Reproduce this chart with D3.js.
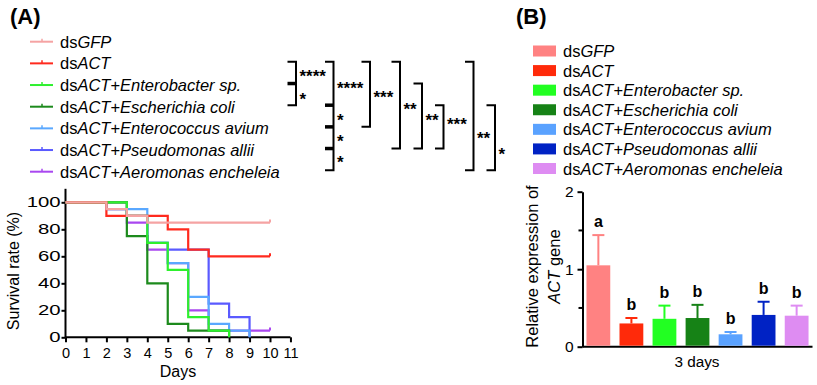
<!DOCTYPE html>
<html>
<head>
<meta charset="utf-8">
<script src="https://cdn.jsdelivr.net/npm/d3@7"></script>
<style>
  body { margin: 0; background: #fff; }
  svg { display: block; font-family: 'Liberation Sans', Arial, sans-serif; }
  .axis path, .axis line { stroke: #000; stroke-width: 2; }
  .axis text { fill: #000; }
</style>
</head>
<body>
<svg id="fig" width="817" height="385"></svg>
<script>
'use strict';

// groups shared by both panels
var groups = [
  'dsGFP',
  'dsACT',
  'dsACT+Enterobacter sp.',
  'dsACT+Escherichia coli',
  'dsACT+Enterococcus avium',
  'dsACT+Pseudomonas allii',
  'dsACT+Aeromonas encheleia'
];
var lineColors = ['#f5a3a3', '#ff2a1e', '#2ef02e', '#1c8a1c', '#5aa8ff', '#5a5aff', '#a947f0'];
var barColors  = ['#ff8282', '#ff2a0a', '#22ff22', '#168216', '#5aa2ff', '#0022c4', '#de8cf2'];

// (A) survival, value held from day i to day i+1
var survival = [
  [100, 100, 95, 90, 85, 85, 85, 85, 85, 85, 85],
  [100, 100, 90, 90, 90, 80, 65, 60, 60, 60, 60],
  [100, 100, 100, 90, 70, 50, 15, 5, 0],
  [100, 100, 100, 75, 40, 10, 5, 5, 0],
  [100, 100, 95, 95, 70, 55, 30, 10, 5, 0],
  [100, 100, 95, 90, 70, 65, 65, 25, 15, 0],
  [100, 100, 100, 85, 65, 55, 20, 5, 5, 5, 5]
];
var drawOrder = [6, 5, 4, 3, 2, 1, 0];
var dayTicks = d3.range(0, 12);
var survTicks = [0, 20, 40, 60, 80, 100];

// significance brackets: rows refer to legend rows
var brackets = [
  {top: 1, bottom: 3, ticks: [2], labels: [['****', 1.5], ['*', 2.55]]},
  {top: 1, bottom: 6, ticks: [3, 4, 5], labels: [['****', 2.05], ['*', 3.5], ['*', 4.5], ['*', 5.45]]},
  {top: 1, bottom: 4, ticks: [], labels: [['***', 2.45]]},
  {top: 1, bottom: 5, ticks: [], labels: [['**', 3.0]]},
  {top: 2, bottom: 5, ticks: [], labels: [['**', 3.5]]},
  {top: 3, bottom: 5, ticks: [], labels: [['***', 3.7]]},
  {top: 1, bottom: 6, ticks: [], labels: [['**', 4.35]]},
  {top: 3, bottom: 6, ticks: [], labels: [['*', 5.1]]}
];
var bracketX = [296, 333.5, 370, 400, 422, 443.5, 473.5, 495];

// (B) relative expression at 3 days
var expression = [1.05, 0.30, 0.36, 0.37, 0.16, 0.41, 0.40];
var expressionErr = [0.39, 0.07, 0.17, 0.17, 0.03, 0.17, 0.13];
var letters = ['a', 'b', 'b', 'b', 'b', 'b', 'b'];

var svg = d3.select('#fig');

function labelParts (name) {
  // "ds" upright, gene and species italic, "+" upright
  var rest = name.slice(2).split('+');
  var parts = [{t: 'ds', i: false}, {t: rest[0], i: true}];
  if (rest[1]) {
    parts.push({t: '+', i: false});
    parts.push({t: rest[1], i: true});
  }
  return parts;
}

function writeLabel (sel) {
  sel.each(function (d) {
    var t = d3.select(this);
    labelParts(d).forEach(function (p) {
      t.append('tspan').attr('font-style', p.i ? 'italic' : 'normal').text(p.t);
    });
  });
}

// ---------- panel A ----------
svg.append('text').attr('x', 10).attr('y', 23.5)
  .attr('font-size', 22).attr('font-weight', 'bold').text('(A)');

var rowA = d3.scaleLinear().domain([0, 6]).range([41.7, 171.7]);

var legA = svg.append('g').selectAll('g').data(groups).join('g')
  .attr('transform', function (d, i) { return 'translate(0,' + rowA(i) + ')'; });
legA.append('line').attr('x1', 30).attr('x2', 53)
  .attr('stroke', function (d, i) { return lineColors[i]; }).attr('stroke-width', 2);
legA.append('line').attr('x1', 42).attr('x2', 42).attr('y1', -3).attr('y2', 0)
  .attr('stroke', function (d, i) { return lineColors[i]; }).attr('stroke-width', 1.5);
legA.append('text').attr('x', 60).attr('y', 6).attr('font-size', 16.5).call(writeLabel);

var br = svg.append('g');
brackets.forEach(function (b, k) {
  var x = bracketX[k];
  var y0 = rowA(b.top) - 1.5;
  var y1 = rowA(b.bottom) - 1.5;
  br.append('path')
    .attr('d', 'M' + (x - 8.5) + ',' + y0 + 'H' + x + 'V' + y1 + 'H' + (x - 8.5))
    .attr('fill', 'none').attr('stroke', '#000').attr('stroke-width', 2);
  b.ticks.forEach(function (r) {
    br.append('line').attr('x1', x - 8.5).attr('x2', x)
      .attr('y1', rowA(r) - 1.5).attr('y2', rowA(r) - 1.5)
      .attr('stroke', '#000').attr('stroke-width', 3.5);
  });
  b.labels.forEach(function (l) {
    br.append('text').attr('x', x + 3.5).attr('y', rowA(l[1]) + 8)
      .attr('font-size', 17).attr('font-weight', 'bold').text(l[0]);
  });
});

var xA = d3.scaleLinear().domain([0, 10]).range([65.5, 270]);
var yA = d3.scaleLinear().domain([0, 100]).range([337.3, 202.3]);

var axA = svg.append('g').attr('class', 'axis').attr('transform', 'translate(0,337.3)')
  .call(d3.axisBottom(xA).tickValues(dayTicks).tickSize(5).tickPadding(5).tickSizeOuter(0));
axA.select('.domain').attr('d', 'M' + xA(0) + ',0H' + xA(11));
axA.selectAll('text').attr('font-size', 14.5);

var ayA = svg.append('g').attr('class', 'axis').attr('transform', 'translate(65.5,0)')
  .call(d3.axisLeft(yA).tickValues(survTicks).tickSize(4).tickPadding(1).tickSizeOuter(0));
ayA.select('.domain').attr('d', 'M0,' + yA(0) + 'V' + yA(110));
ayA.selectAll('text').attr('font-size', 14.5).each(function () {
  // the reference prints these digits wide
  var w = this.getComputedTextLength();
  d3.select(this).attr('textLength', w * 1.4).attr('lengthAdjust', 'spacingAndGlyphs');
});

svg.append('text').attr('x', 178).attr('y', 377).attr('text-anchor', 'middle')
  .attr('font-size', 16).text('Days');
svg.append('text').attr('transform', 'translate(18.5,271) rotate(-90)')
  .attr('text-anchor', 'middle').attr('font-size', 16).text('Survival rate (%)');

var stepLine = d3.line()
  .x(function (d, i) { return xA(i); })
  .y(function (d) { return yA(d); })
  .curve(d3.curveStepAfter);

var curves = svg.append('g');
drawOrder.forEach(function (g) {
  var vals = survival[g];
  curves.append('path').attr('d', stepLine(vals))
    .attr('fill', 'none').attr('stroke', lineColors[g]).attr('stroke-width', 2.2);
  var last = vals[vals.length - 1];
  if (last > 0) {
    curves.append('line')
      .attr('x1', xA(vals.length - 1)).attr('x2', xA(vals.length - 1))
      .attr('y1', yA(last) - 3).attr('y2', yA(last))
      .attr('stroke', lineColors[g]).attr('stroke-width', 2);
  }
});

// ---------- panel B ----------
svg.append('text').attr('x', 516).attr('y', 23.5)
  .attr('font-size', 22).attr('font-weight', 'bold').text('(B)');

var rowB = d3.scaleLinear().domain([0, 6]).range([51, 168.5]);
var legB = svg.append('g').selectAll('g').data(groups).join('g')
  .attr('transform', function (d, i) { return 'translate(0,' + rowB(i) + ')'; });
legB.append('rect').attr('x', 533).attr('y', -5.5).attr('width', 23).attr('height', 11)
  .attr('fill', function (d, i) { return barColors[i]; });
legB.append('text').attr('x', 563).attr('y', 6).attr('font-size', 16.5).call(writeLabel);

var xB = d3.scaleBand().domain(groups).range([582.5, 812.5])
  .paddingInner(0.28).paddingOuter(0.12);
var yB = d3.scaleLinear().domain([0, 2]).range([346.7, 191.7]);

var ayB = svg.append('g').attr('class', 'axis').attr('transform', 'translate(582.5,0)')
  .call(d3.axisLeft(yB).tickValues([0, 1, 2]).tickFormat(d3.format('d'))
    .tickSize(5).tickPadding(4).tickSizeOuter(0));
ayB.selectAll('text').attr('font-size', 15.5);
ayB.selectAll('.minor').data([0.5, 1.5]).join('line').attr('class', 'minor')
  .attr('x1', -4).attr('x2', 0).attr('y1', yB).attr('y2', yB)
  .attr('stroke', '#000').attr('stroke-width', 2);

svg.append('line').attr('x1', 582.5).attr('x2', 812.5).attr('y1', yB(0)).attr('y2', yB(0))
  .attr('stroke', '#000').attr('stroke-width', 2);

var bars = svg.append('g').selectAll('g').data(groups).join('g');
bars.append('line')
  .attr('x1', function (d) { return xB(d) + xB.bandwidth() / 2; })
  .attr('x2', function (d) { return xB(d) + xB.bandwidth() / 2; })
  .attr('y1', function (d, i) { return yB(expression[i]); })
  .attr('y2', function (d, i) { return yB(expression[i] + expressionErr[i]); })
  .attr('stroke', function (d, i) { return barColors[i]; }).attr('stroke-width', 2);
bars.append('line')
  .attr('x1', function (d) { return xB(d) + xB.bandwidth() / 2 - 6; })
  .attr('x2', function (d) { return xB(d) + xB.bandwidth() / 2 + 6; })
  .attr('y1', function (d, i) { return yB(expression[i] + expressionErr[i]); })
  .attr('y2', function (d, i) { return yB(expression[i] + expressionErr[i]); })
  .attr('stroke', function (d, i) { return barColors[i]; }).attr('stroke-width', 2);
bars.append('rect')
  .attr('x', function (d) { return xB(d); })
  .attr('width', xB.bandwidth())
  .attr('y', function (d, i) { return yB(expression[i]); })
  .attr('height', function (d, i) { return yB(0) - 1 - yB(expression[i]); })
  .attr('fill', function (d, i) { return barColors[i]; });
bars.append('text')
  .attr('x', function (d) { return xB(d) + xB.bandwidth() / 2; })
  .attr('y', function (d, i) { return yB(expression[i] + expressionErr[i]) - 8; })
  .attr('text-anchor', 'middle').attr('font-size', 16).attr('font-weight', 'bold')
  .text(function (d, i) { return letters[i]; });

svg.append('text').attr('x', 697).attr('y', 367).attr('text-anchor', 'middle')
  .attr('font-size', 15.3).text('3 days');

var yl = svg.append('text').attr('transform', 'translate(538,266.5) rotate(-90)')
  .attr('text-anchor', 'middle').attr('font-size', 16.5);
yl.append('tspan').attr('x', 0).attr('dy', 0).text('Relative expression of');
var yl2 = yl.append('tspan').attr('x', 0).attr('dy', 21.5);
yl2.append('tspan').attr('font-style', 'italic').text('ACT');
yl2.append('tspan').text(' gene');
</script>
</body>
</html>
